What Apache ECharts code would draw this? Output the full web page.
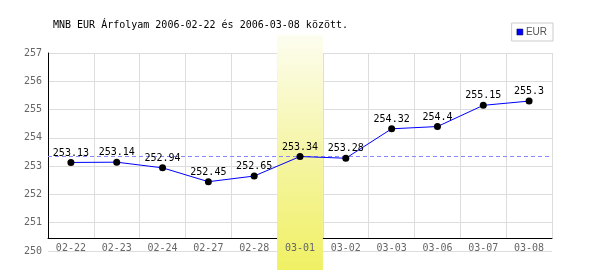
<!DOCTYPE html>
<html>
<head>
<meta charset="utf-8">
<script src="https://cdn.jsdelivr.net/npm/echarts@6/dist/echarts.min.js"></script>
<style>html,body{margin:0;padding:0;background:#fff}#c{width:600px;height:270px}</style>
</head>
<body>
<div id="c"></div>
<script>
const titleText = 'MNB EUR Árfolyam 2006-02-22 és 2006-03-08 között.';
const dates = ['02-22','02-23','02-24','02-27','02-28','03-01','03-02','03-03','03-06','03-07','03-08'];
const eurValues = [253.13, 253.14, 252.94, 252.45, 252.65, 253.34, 253.28, 254.32, 254.4, 255.15, 255.3];
const highlightDay = '03-01';
const referenceValue = 253.34;
const yTicks = [250, 251, 252, 253, 254, 255, 256, 257];

const mono = 'DejaVu Sans Mono';
const chart = echarts.init(document.getElementById('c'), null, {renderer: 'canvas'});
chart.setOption({
  animation: false,
  backgroundColor: '#fff',
  title: {
    text: titleText, left: 53, top: 19, padding: 0,
    textStyle: {fontFamily: mono, fontSize: 10, fontWeight: 'normal', color: '#000', lineHeight: 12}
  },
  legend: {
    data: [{name: 'EUR', itemStyle: {color: '#0000ff', borderColor: '#000044', borderWidth: 0.5}}],
    right: 47, top: 23, icon: 'rect', itemWidth: 6, itemHeight: 6, itemGap: 3,
    borderColor: '#cccccc', borderWidth: 1, padding: [4, 6, 4, 5],
    textStyle: {fontFamily: 'Liberation Sans Narrow, Liberation Sans', fontSize: 10, color: '#555', padding: [0, 0, 0, -2]}
  },
  grid: [
    {left: 48, right: 48, top: 53, bottom: 19},
    {left: 48, right: 48, top: 53, bottom: 32},
    {left: 48, right: 48, top: 35, bottom: 0}
  ],
  xAxis: [
    {gridIndex: 0, type: 'category', data: dates, show: false, boundaryGap: true},
    {gridIndex: 1, type: 'category', data: dates, boundaryGap: true,
     axisLine: {show: true, lineStyle: {color: '#000', width: 1}},
     axisTick: {show: false},
     splitLine: {show: true, lineStyle: {color: '#dddddd', width: 1}},
     axisLabel: {fontFamily: mono, fontSize: 10, color: '#666', margin: 5, interval: 0}},
    {gridIndex: 2, type: 'category', data: dates, show: false, boundaryGap: true}
  ],
  yAxis: [
    {gridIndex: 0, type: 'value', min: yTicks[0], max: yTicks[yTicks.length - 1], interval: 1,
     axisLine: {show: false}, axisTick: {show: false},
     splitLine: {show: true, lineStyle: {color: '#dddddd', width: 1}},
     axisLabel: {fontFamily: mono, fontSize: 10, color: '#666', margin: 6}},
    {gridIndex: 1, type: 'value', min: 0, max: 1,
     axisLine: {show: true, lineStyle: {color: '#000', width: 1}},
     axisTick: {show: false}, axisLabel: {show: false}, splitLine: {show: false}},
    {gridIndex: 2, type: 'value', min: 0, max: 1, show: false}
  ],
  series: [
    {
      name: 'band', type: 'bar', xAxisIndex: 2, yAxisIndex: 2, z: 0,
      barWidth: '100%', silent: true,
      data: dates.map(d => d === highlightDay ? 1 : null),
      itemStyle: {color: new echarts.graphic.LinearGradient(0, 0, 0, 1, [
        {offset: 0, color: '#fdfdf0'},
        {offset: 0.5, color: '#f5f5a6'},
        {offset: 1, color: '#f0f064'}
      ])}
    },
    {
      name: 'EUR', type: 'line', xAxisIndex: 0, yAxisIndex: 0, z: 5,
      data: eurValues,
      symbol: 'circle', symbolSize: 7,
      itemStyle: {color: '#000'},
      lineStyle: {color: '#0000ff', width: 1},
      label: {show: true, position: 'top', distance: 1, fontFamily: mono, fontSize: 10, color: '#000'},
      markLine: {
        silent: true, symbol: ['none', 'none'], label: {show: false},
        lineStyle: {color: '#8888ff', type: [4, 3], width: 1},
        data: [{yAxis: referenceValue}]
      }
    }
  ]
});
</script>
</body>
</html>
